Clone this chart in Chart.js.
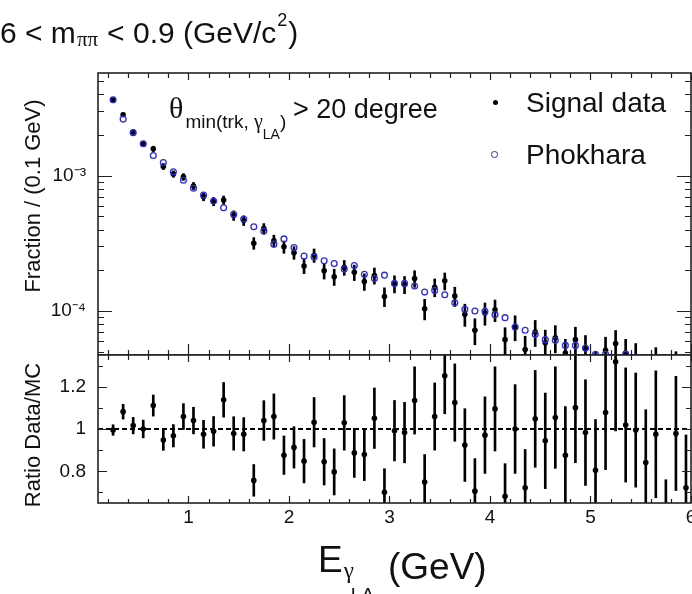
<!DOCTYPE html>
<html>
<head>
<meta charset="utf-8">
<script src="https://cdn.jsdelivr.net/npm/chart.js@4.4.1/dist/chart.umd.min.js"></script>
<style>
  html, body { margin: 0; padding: 0; background: #fff; width: 692px; height: 594px; overflow: hidden; }
  body { position: relative; font-family: "Liberation Sans", Arial, sans-serif; color: #111; }
  canvas { position: absolute; left: 0; top: 0; }
  .txt { position: absolute; white-space: nowrap; z-index: 2; }
  .ytitle { position: absolute; white-space: nowrap; font-size: 22px; line-height: 22px; transform: translate(-50%, -50%) rotate(-90deg); z-index: 2; }
  .mark { position: absolute; border-radius: 50%; z-index: 2; box-sizing: border-box; }
</style>
</head>
<body>
<canvas id="ratioChart" width="700" height="594"></canvas>
<canvas id="mainChart" width="700" height="355"></canvas>

<div class="ytitle" style="left:33px; top:196px;">Fraction / (0.1 GeV)</div>
<div class="ytitle" style="left:33px; top:435px;">Ratio Data/MC</div>
<div class="mark" style="left:492.5px; top:99.5px; width:5px; height:5px; background:#000;"></div>
<div class="mark" style="left:491px; top:151px; width:6.5px; height:6.5px; border:1.3px solid #2b2bdf;"></div>

<script>
// energy bin centres (GeV)
const energy = [0.25, 0.35, 0.45, 0.55, 0.65, 0.75, 0.85, 0.95, 1.05, 1.15,
  1.25, 1.35, 1.45, 1.55, 1.65, 1.75, 1.85, 1.95, 2.05, 2.15,
  2.25, 2.35, 2.45, 2.55, 2.65, 2.75, 2.85, 2.95, 3.05, 3.15,
  3.25, 3.35, 3.45, 3.55, 3.65, 3.75, 3.85, 3.95, 4.05, 4.15,
  4.25, 4.35, 4.45, 4.55, 4.65, 4.75, 4.85, 4.95, 5.05, 5.15,
  5.25, 5.35, 5.45, 5.55, 5.65, 5.75, 5.85, 5.95];

const signalData = [3.64e-3, 2.82e-3, 2.10e-3, 1.72e-3, 1.58e-3, 1.17e-3, 1.03e-3, 9.8e-4, 8.4e-4, 7.0e-4,
  6.45e-4, 6.6e-4, 5.08e-4, 4.66e-4, 3.17e-4, 4.06e-4, 3.3e-4, 2.98e-4, 2.7e-4, 2.15e-4,
  2.58e-4, 1.98e-4, 1.79e-4, 2.1e-4, 1.93e-4, 1.65e-4, 1.83e-4, 1.28e-4, 1.59e-4, 1.57e-4,
  1.74e-4, 1.04e-4, 1.5e-4, 1.67e-4, 1.29e-4, 9.46e-5, 7.2e-5, 9.65e-5, 1.02e-4, 6.14e-5,
  7.62e-5, 5.2e-5, 6.99e-5, 5.83e-5, 6.35e-5, 4.89e-5, 6.14e-5, 5.25e-5, 3.85e-5, 5.12e-5,
  5.75e-5, 4.88e-5, 4.52e-5, 3.62e-5, 4.1e-5, 1.85e-5, 3.92e-5, 2.82e-5];

const phokhara = [3.64e-3, 2.62e-3, 2.08e-3, 1.72e-3, 1.41e-3, 1.25e-3, 1.07e-3, 9.25e-4, 8.07e-4, 7.2e-4,
  6.5e-4, 5.8e-4, 5.18e-4, 4.78e-4, 4.19e-4, 3.9e-4, 3.12e-4, 3.41e-4, 2.95e-4, 2.55e-4,
  2.51e-4, 2.35e-4, 2.24e-4, 2.04e-4, 2.17e-4, 1.87e-4, 1.74e-4, 1.84e-4, 1.6e-4, 1.6e-4,
  1.53e-4, 1.38e-4, 1.42e-4, 1.32e-4, 1.15e-4, 1.03e-4, 1.0e-4, 9.93e-5, 9.4e-5, 8.93e-5,
  7.62e-5, 7.2e-5, 6.72e-5, 6.14e-5, 6.07e-5, 5.57e-5, 5.57e-5, 5.32e-5, 4.78e-5, 4.79e-5,
  4.45e-5, 4.8e-5, 4.55e-5, 4.3e-5, 4.2e-5, 4.1e-5, 4.0e-5, 3.9e-5];

// Data / MC ratio and its error
const ratio = [0.995, 1.082, 1.016, 1.0, 1.111, 0.948, 0.968, 1.059, 1.04, 0.975,
  0.989, 1.138, 0.979, 0.975, 0.757, 1.04, 1.059, 0.876, 0.913, 0.848,
  1.032, 0.845, 0.797, 1.029, 0.887, 0.879, 1.051, 0.701, 0.992, 0.983,
  1.135, 0.749, 1.059, 1.252, 1.125, 0.924, 0.706, 0.971, 1.095, 0.682,
  1.0, 0.722, 1.048, 0.944, 1.054, 0.876, 1.101, 0.983, 0.805, 1.078,
  1.318, 1.019, 0.995, 0.841, 0.975, 0.45, 0.979, 0.722];

const ratioErr = [0.025, 0.035, 0.039, 0.042, 0.05, 0.049, 0.053, 0.061, 0.063, 0.066,
  0.07, 0.082, 0.079, 0.079, 0.075, 0.094, 0.107, 0.091, 0.098, 0.103,
  0.117, 0.11, 0.109, 0.129, 0.116, 0.123, 0.143, 0.111, 0.143, 0.143,
  0.159, 0.13, 0.159, 0.18, 0.183, 0.172, 0.154, 0.181, 0.199, 0.154,
  0.21, 0.181, 0.229, 0.226, 0.24, 0.23, 0.26, 0.25, 0.24, 0.27,
  0.327, 0.27, 0.27, 0.25, 0.3, 0.31, 0.27, 0.25];

// axis ticks
const xLabelTicks = [1, 2, 3, 4, 5, 6];
const logMajorTicks = [1e-4, 1e-3];
const logMinorTicks = [5e-5, 6e-5, 7e-5, 8e-5, 9e-5, 2e-4, 3e-4, 4e-4, 5e-4, 6e-4, 7e-4, 8e-4, 9e-4,
  2e-3, 3e-3, 4e-3, 5e-3];
const ratioMajorTicks = [0.8, 1.0, 1.2];
const ratioMinorTicks = [0.7, 0.9, 1.1, 1.3];

const BLUE = '#2b2bdf';
Chart.defaults.font.family = '"Liberation Sans", Arial, sans-serif';
Chart.defaults.color = '#111';

const sup = { '-': '\u207B', '3': '\u00B3', '4': '\u2074', '2': '\u00B2', '5': '\u2075' };

// frame + ROOT style inner tick marks
const frameTicks = {
  id: 'frameTicks',
  afterDatasetsDraw(chart, args, o) {
    const { ctx, chartArea: a, scales } = chart;
    ctx.save();
    ctx.strokeStyle = '#222';
    ctx.lineWidth = 1.2;
    ctx.beginPath();
    for (let k = 1; k <= 30; k++) {
      const px = Math.round(scales.x.getPixelForValue(k * 0.2)) + 0.5;
      const major = k % 5 === 0;
      const lb = major ? o.xMajB : o.xMinB;
      const lt = major ? o.xMajT : o.xMinT;
      ctx.moveTo(px, a.bottom); ctx.lineTo(px, a.bottom - lb);
      ctx.moveTo(px, a.top); ctx.lineTo(px, a.top + lt);
    }
    const yt = (vals, len) => vals.forEach(v => {
      const py = Math.round(scales.y.getPixelForValue(v)) + 0.5;
      ctx.moveTo(a.left, py); ctx.lineTo(a.left + len, py);
      ctx.moveTo(a.right, py); ctx.lineTo(a.right - len, py);
    });
    yt(o.yMajor, o.yMajLen);
    yt(o.yMinor, o.yMinLen);
    ctx.stroke();
    ctx.lineWidth = 1.6;
    ctx.strokeRect(a.left, a.top, a.right - a.left, a.bottom - a.top);
    ctx.restore();
  }
};

const fixY = s => { s.width = 98; s.paddingTop = 0; s.paddingBottom = 0; };

// top panel
const dataPts = energy.map((x, i) => ({ x, y: signalData[i] }));
const mcPts = energy.map((x, i) => ({ x, y: phokhara[i] }));
const dataBars = energy.map((x, i) => {
  const rel = ratioErr[i] / ratio[i];
  return { x, y: [signalData[i] * (1 - rel), signalData[i] * (1 + rel)] };
});

new Chart(document.getElementById('mainChart'), {
  type: 'scatter',
  data: {
    datasets: [
      { label: 'Phokhara', data: mcPts, order: 0, pointStyle: 'circle', pointRadius: 2.9,
        borderColor: BLUE, backgroundColor: 'rgba(0,0,0,0)', borderWidth: 1.3, clip: 0 },
      { label: 'Signal data', data: dataPts, order: 1, pointRadius: 2.8,
        backgroundColor: '#000', borderColor: '#000', borderWidth: 0, clip: 0 },
      { type: 'bar', label: 'err', data: dataBars, order: 2, backgroundColor: '#000',
        barThickness: 2, borderWidth: 0, clip: 0 }
    ]
  },
  options: {
    responsive: false, animation: false, devicePixelRatio: 1,
    layout: { autoPadding: false, padding: { left: 0, right: 9, top: 73, bottom: 0 } },
    plugins: {
      legend: { display: false }, tooltip: { enabled: false },
      frameTicks: { xMajB: 11, xMinB: 5, xMajT: 7, xMinT: 5, yMajor: logMajorTicks, yMinor: logMinorTicks, yMajLen: 14, yMinLen: 6 }
    },
    scales: {
      x: { type: 'linear', min: 0.1, max: 6, offset: false, display: false },
      y: {
        type: 'logarithmic', min: 4.73e-5, max: 5.74e-3,
        grid: { display: false }, border: { display: false },
        afterBuildTicks: s => { s.ticks = logMajorTicks.map(v => ({ value: v })); },
        afterFit: fixY,
        ticks: {
          padding: 4, font: { size: 19 }, color: '#111',
          callback: v => '10' + String(Math.round(Math.log10(v))).split('').map(c => sup[c]).join('')
        }
      }
    }
  },
  plugins: [frameTicks]
});

// ratio panel
const ratioPts = energy.map((x, i) => ({ x, y: ratio[i] }));
const ratioBars = energy.map((x, i) => ({ x, y: [ratio[i] - ratioErr[i], ratio[i] + ratioErr[i]] }));

new Chart(document.getElementById('ratioChart'), {
  type: 'scatter',
  data: {
    datasets: [
      { label: 'ratio', data: ratioPts, order: 1, pointRadius: 2.8,
        backgroundColor: '#000', borderColor: '#000', borderWidth: 0, clip: 0 },
      { type: 'bar', label: 'err', data: ratioBars, order: 2, backgroundColor: '#000',
        barThickness: 2, borderWidth: 0, clip: 0 },
      { type: 'line', label: 'one', data: [{ x: 0.1, y: 1 }, { x: 6, y: 1 }], order: 3,
        borderColor: '#000', borderWidth: 2, borderDash: [5, 3], pointRadius: 0, fill: false, clip: 0 }
    ]
  },
  options: {
    responsive: false, animation: false, devicePixelRatio: 1,
    layout: { autoPadding: false, padding: { left: 0, right: 9, top: 355, bottom: 0 } },
    plugins: {
      legend: { display: false }, tooltip: { enabled: false },
      frameTicks: { xMajB: 7, xMinB: 4, xMajT: 7, xMinT: 5, yMajor: ratioMajorTicks, yMinor: ratioMinorTicks, yMajLen: 9, yMinLen: 5 }
    },
    scales: {
      x: {
        type: 'linear', min: 0.1, max: 6, offset: false,
        grid: { display: false, drawTicks: false, offset: false }, border: { display: false },
        afterBuildTicks: s => { s.ticks = xLabelTicks.map(v => ({ value: v })); },
        afterFit: s => { s.height = 91; s.paddingLeft = 0; s.paddingRight = 0; },
        ticks: { padding: 3, font: { size: 19 }, color: '#111', maxRotation: 0, callback: v => String(v) }
      },
      y: {
        type: 'linear', min: 0.65, max: 1.35,
        grid: { display: false }, border: { display: false },
        afterBuildTicks: s => { s.ticks = ratioMajorTicks.map(v => ({ value: v })); },
        afterFit: fixY,
        ticks: { padding: 4, font: { size: 19 }, color: '#111', callback: v => (v === 1 ? '1' : v.toFixed(1)) }
      }
    }
  },
  plugins: [frameTicks]
});

// text annotations, placed by baseline
function label(html, x, base, size, serif) {
  const el = document.createElement('div');
  el.className = 'txt';
  el.innerHTML = html;
  el.style.left = x + 'px';
  el.style.fontSize = size + 'px';
  el.style.lineHeight = size + 'px';
  if (serif) el.style.fontFamily = '"Liberation Serif", "DejaVu Serif", serif';
  el.style.top = (base - size * (serif ? 0.8375 : 0.8465)) + 'px';
  document.body.appendChild(el);
  return el;
}

// pieces laid out one after another
function row(x, base, parts) {
  parts.forEach(p => {
    x += p.dx || 0;
    const el = label(p.t, x, base + (p.dy || 0), p.size, p.serif);
    x += el.getBoundingClientRect().width;
  });
}

// header
row(0, 43, [
  { t: '6 &lt; m', size: 30 },
  { t: '\u03C0\u03C0', size: 21, serif: true, dy: 4, dx: 1 },
  { t: '&lt; 0.9 (GeV/c', size: 30, dx: 9 },
  { t: '2', size: 18, dy: -17, dx: 1 },
  { t: ')', size: 30, dx: 1 }
]);

// selection
row(169, 118, [
  { t: '\u03B8', size: 30, serif: true },
  { t: 'min(trk,&nbsp;', size: 19, dy: 10, dx: 2 },
  { t: '\u03B3', size: 20, serif: true, dy: 10 },
  { t: 'LA', size: 14, dy: 21 },
  { t: ')', size: 19, dy: 10 }
]);
label('&gt; 20 degree', 293, 119, 27);

// legend text
label('Signal data', 526, 113, 28);
label('Phokhara', 526, 165, 28);

// x title
row(318, 572, [
  { t: 'E', size: 37 },
  { t: '\u03B3', size: 23, serif: true, dy: 6, dx: 1 },
  { t: 'LA', size: 19, dy: 29, dx: -3 }
]);
label('(GeV)', 388, 579, 37);
</script>
</body>
</html>
